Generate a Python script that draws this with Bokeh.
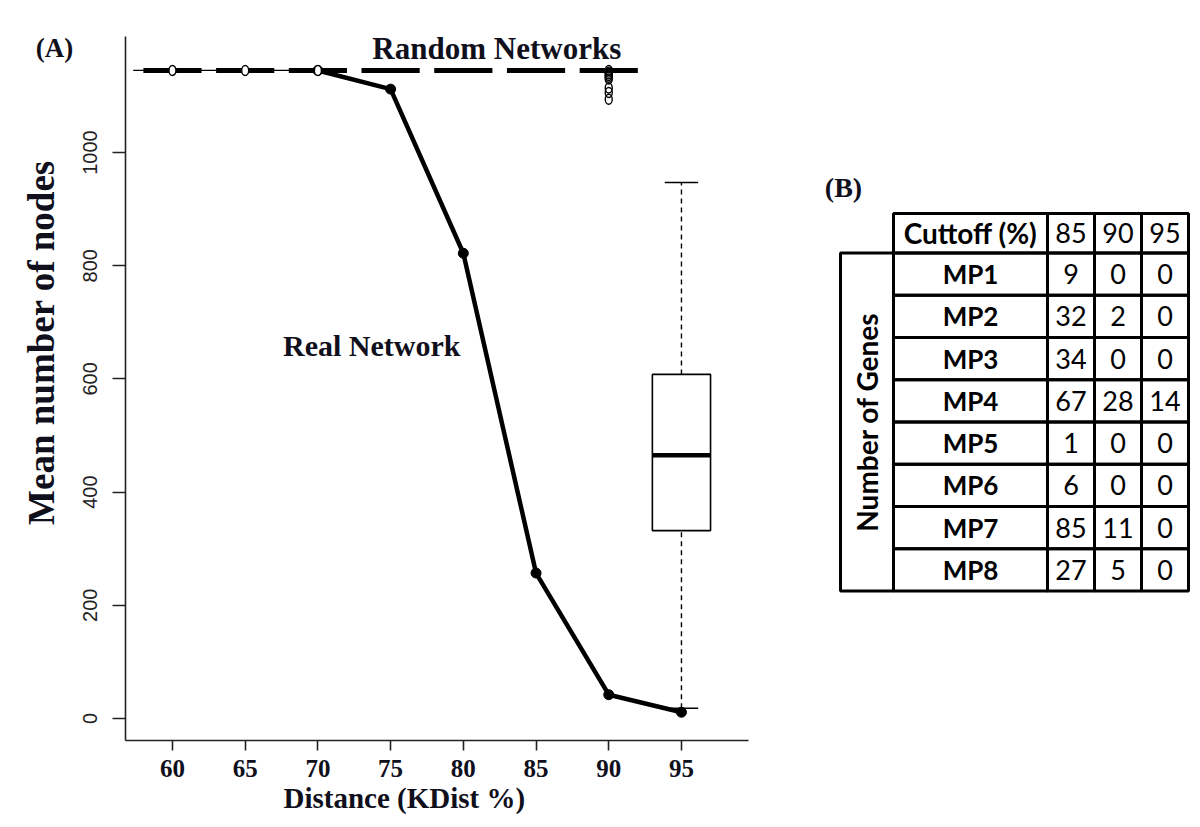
import math
from bokeh.plotting import figure
from bokeh.models import Range1d, FixedTicker, Title
from bokeh.layouts import row
from bokeh.embed import file_html
from bokeh.resources import INLINE
from bokeh.core.properties import value

# ---------------- data (panel A) ----------------
tick_x = [60, 65, 70, 75, 80, 85, 90, 95]
tick_y = [0, 200, 400, 600, 800, 1000]

# real network mean node counts
real_x = [70, 75, 80, 85, 90, 95]
real_nodes = [1145, 1112, 822, 257, 42, 11]

# thin baseline segment at the top of the real network (60-70)
base_x = [57.3, 70]
base_y = [1145, 1145]

# random networks: degenerate boxplots (collapsed to the median)
rand_x = [60, 65, 70, 75, 80, 85, 90]
rand_median = [1145, 1145, 1145, 1145, 1145, 1145, 1145]

# random networks outliers
out_x = [60, 65, 70, 90, 90, 90, 90, 90, 90, 90, 90, 90]
out_y = [1145, 1145, 1145, 1145, 1142, 1139, 1136, 1133, 1130, 1114, 1106, 1094]

# random networks full box at 95
box_x = [95]
box_low = [18]
box_q1 = [332]
box_med = [465]
box_q3 = [608]
box_high = [947]

# ---------------- data (panel B) ----------------
cutoff_cols = ["85", "90", "95"]
mp_labels = ["MP1", "MP2", "MP3", "MP4", "MP5", "MP6", "MP7", "MP8"]
cut85 = [9, 32, 34, 67, 1, 6, 85, 27]
cut90 = [0, 2, 0, 28, 0, 0, 11, 5]
cut95 = [0, 0, 0, 14, 0, 0, 0, 0]

SERIF = "Liberation Serif"
INK = "#10101c"
H = 820
FTOP, FBOT = 36, 740          # frame top / bottom on the page (shared by all panels)


def blank(fig):
    fig.grid.visible = False
    fig.outline_line_color = None
    fig.background_fill_color = "white"
    fig.border_fill_color = "white"


# ---------------- left strip: panel tag + y title ----------------
LW = 74
s = figure(width=LW, height=H, x_range=Range1d(0, LW), y_range=Range1d(FBOT, FTOP),
           output_backend="svg", toolbar_location=None,
           x_axis_location=None, y_axis_location=None, min_border=0,
           min_border_top=FTOP, min_border_bottom=H - FBOT)
blank(s)
s.text(x=[54], y=[47], text=["(A)"], text_font=value(SERIF),
       text_font_style="bold", text_font_size="27px", text_color=INK,
       text_align="center", text_baseline="middle")
s.text(x=[41], y=[342], text=["Mean number of nodes"], text_font=value(SERIF),
       text_font_style="bold", text_font_size="37px", text_color=INK,
       text_align="center", text_baseline="middle", angle=math.pi / 2)

# ---------------- panel A ----------------
p = figure(width=790 - LW, height=H,
           x_range=Range1d(56.77, 99.61), y_range=Range1d(-38.9, 1205),
           output_backend="svg", toolbar_location=None,
           min_border_left=125 - LW, min_border_top=FTOP,
           min_border_right=42, min_border_bottom=H - FBOT)
blank(p)

p.xaxis.ticker = FixedTicker(ticks=tick_x)
p.yaxis.ticker = FixedTicker(ticks=tick_y)
for ax in (p.xaxis, p.yaxis):
    ax.minor_tick_line_color = None
    ax.axis_line_color = "#222222"
    ax.axis_line_width = 1.6
    ax.major_tick_line_color = "#222222"
    ax.major_tick_line_width = 1.6
    ax.major_tick_in = 0
p.xaxis.major_tick_out = 10
p.yaxis.major_tick_out = 13
p.xaxis.major_label_text_font = SERIF
p.xaxis.major_label_text_font_style = "bold"
p.xaxis.major_label_text_font_size = "25px"
p.xaxis.major_label_text_color = INK
p.xaxis.major_label_standoff = 9
p.yaxis.major_label_text_font = "Liberation Sans"
p.yaxis.major_label_text_font_size = "20px"
p.yaxis.major_label_text_color = "#222222"
p.yaxis.major_label_orientation = "vertical"
p.yaxis.major_label_standoff = 15

p.add_layout(Title(text="Distance (KDist %)", text_font=SERIF,
                   text_font_style="bold", text_font_size="29px",
                   text_color=INK, align="left", offset=158, standoff=1),
             "below")

half_w = 2.0
cap_w = 1.15

# degenerate random boxes (thick medians)
p.segment(x0=[x - half_w for x in rand_x], x1=[x + half_w for x in rand_x],
          y0=rand_median, y1=rand_median, line_color="black", line_width=5)
# thin baseline
p.line(base_x, base_y, line_color="black", line_width=1.2)

# full box at 95
p.segment(x0=box_x, x1=box_x, y0=box_q3, y1=box_high, line_color="black",
          line_width=1.4, line_dash="5 4")
p.segment(x0=box_x, x1=box_x, y0=box_low, y1=box_q1, line_color="black",
          line_width=1.4, line_dash="5 4")
p.segment(x0=[x - cap_w for x in box_x], x1=[x + cap_w for x in box_x],
          y0=box_high, y1=box_high, line_color="black", line_width=1.6)
p.segment(x0=[x - cap_w for x in box_x], x1=[x + cap_w for x in box_x],
          y0=box_low, y1=box_low, line_color="black", line_width=1.6)
p.quad(left=[x - half_w for x in box_x], right=[x + half_w for x in box_x],
       bottom=box_q1, top=box_q3, fill_color="white", line_color="black",
       line_width=1.6)
p.segment(x0=[x - half_w for x in box_x], x1=[x + half_w for x in box_x],
          y0=box_med, y1=box_med, line_color="black", line_width=4.5)

# real network
p.line(real_x, real_nodes, line_color="black", line_width=4.5)
p.scatter(real_x, real_nodes, size=10, marker="circle", fill_color="black",
          line_color="black")

# outliers (open circles; the lone ones are drawn over the thick medians)
p.ellipse(x=out_x, y=out_y, width=7, height=10, width_units="screen",
          height_units="screen", fill_color="white",
          fill_alpha=[1.0 if x < 90 else 0.0 for x in out_x],
          line_color="black", line_width=1.4)

p.text(x=[82.3], y=[1184], text=["Random Networks"], text_font=value(SERIF),
       text_font_style="bold", text_font_size="31px", text_color=INK,
       text_align="center", text_baseline="middle")
p.text(x=[73.7], y=[659], text=["Real Network"], text_font=value(SERIF),
       text_font_style="bold", text_font_size="30px", text_color=INK,
       text_align="center", text_baseline="middle")

# ---------------- panel B (table) ----------------
BX0, BX1 = 790, 1195
q = figure(width=BX1 - BX0, height=H, x_range=Range1d(BX0, BX1),
           y_range=Range1d(FBOT, FTOP), output_backend="svg",
           toolbar_location=None, x_axis_location=None, y_axis_location=None,
           min_border=0, min_border_top=FTOP, min_border_bottom=H - FBOT)
blank(q)

col_edges = [893, 1047, 1094, 1141, 1188]
head_top, head_bot = 213, 252.5
row_h = 42.25
row_edges = [head_bot + i * row_h for i in range(len(mp_labels) + 1)]
side_left = 840

L, R, T, B = [], [], [], []
for c in range(4):
    L.append(col_edges[c]); R.append(col_edges[c + 1]); T.append(head_top); B.append(head_bot)
for r in range(len(mp_labels)):
    for c in range(4):
        L.append(col_edges[c]); R.append(col_edges[c + 1])
        T.append(row_edges[r]); B.append(row_edges[r + 1])
L.append(side_left); R.append(col_edges[0]); T.append(row_edges[0]); B.append(row_edges[-1])
q.quad(left=L, right=R, top=T, bottom=B, fill_color=None, line_color="black",
       line_width=3)

TFONT = "Lato"
TS = "27px"
col_cx = [(col_edges[i] + col_edges[i + 1]) / 2 for i in range(4)]
row_cy = [(row_edges[i] + row_edges[i + 1]) / 2 for i in range(len(mp_labels))]
head_cy = (head_top + head_bot) / 2

q.text(x=[col_cx[0]], y=[head_cy], text=["Cuttoff (%)"], text_font=value(TFONT),
       text_font_style="bold", text_font_size="28px", text_color="black",
       text_align="center", text_baseline="middle")
q.text(x=col_cx[1:], y=[head_cy] * 3, text=cutoff_cols, text_font=value(TFONT),
       text_font_size=TS, text_color="black", text_align="center",
       text_baseline="middle")
q.text(x=[col_cx[0]] * len(mp_labels), y=row_cy, text=mp_labels,
       text_font=value(TFONT), text_font_style="bold", text_font_size="26px",
       text_color="black", text_align="center", text_baseline="middle")
for ci, vals in enumerate([cut85, cut90, cut95]):
    q.text(x=[col_cx[ci + 1]] * len(vals), y=row_cy, text=[str(v) for v in vals],
           text_font=value(TFONT), text_font_size=TS, text_color="black",
           text_align="center", text_baseline="middle")
q.text(x=[(side_left + col_edges[0]) / 2], y=[(row_edges[0] + row_edges[-1]) / 2],
       text=["Number of Genes"], text_font=value(TFONT), text_font_style="bold",
       text_font_size="28px", text_color="black", text_align="center",
       text_baseline="middle", angle=math.pi / 2)
q.text(x=[843], y=[187], text=["(B)"], text_font=value(SERIF),
       text_font_style="bold", text_font_size="28px", text_color=INK,
       text_align="center", text_baseline="middle")

layout = row(s, p, q)
open("out.html", "w").write(file_html(layout, INLINE))
